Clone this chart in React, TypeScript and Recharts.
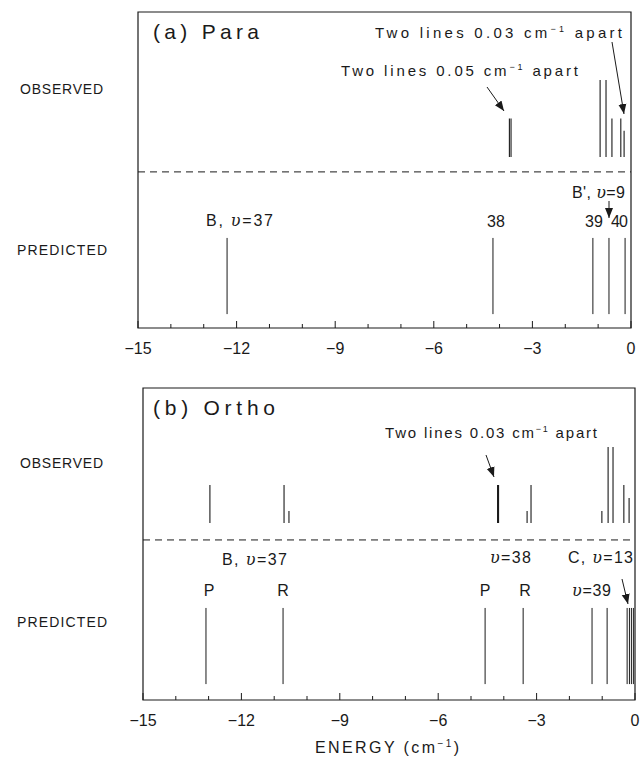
import React from 'react';
import { ComposedChart, Line, XAxis, YAxis, ReferenceLine, ReferenceArea } from 'recharts';

// energies in cm^-1, intensities relative to the tallest observed line
const paraObsEnergy = [-3.7, -3.65, -0.94, -0.76, -0.58, -0.31, -0.21];
const paraObsIntensity = [0.5, 0.5, 1, 1, 0.5, 0.5, 0.34];
const paraPredEnergy = [-12.29, -4.2, -1.16, -0.67, -0.18];

const orthoObsEnergy = [-12.96, -10.7, -10.55, -4.19, -4.16, -3.29, -3.17, -1.01, -0.82, -0.67, -0.34, -0.18];
const orthoObsIntensity = [0.5, 0.5, 0.16, 0.5, 0.5, 0.16, 0.5, 0.16, 1, 1, 0.5, 0.33];
const orthoPredEnergy = [-13.08, -10.73, -4.57, -3.41, -1.31, -0.85, -0.24, -0.17, -0.11, -0.05];

const energyTicks = [-15, -14, -13, -12, -11, -10, -9, -8, -7, -6, -5, -4, -3, -2, -1, 0];

const FONT = '"Liberation Sans", Arial, sans-serif';
const INK = '#1a1a1a';

interface PanelLayout {
  obsBase: number;
  obsFull: number;
  predLow: number;
  predHigh: number;
  divider: number;
}

const fmt = (v: number) => (v < 0 ? '\u2212' + Math.abs(v) : String(v));

const BottomTick = (props: any) => {
  const { x, y, payload } = props;
  const v = payload.value;
  const major = v % 3 === 0;
  return (
    <g>
      <line x1={x} x2={x} y1={y} y2={y - (major ? 7 : 4)} stroke={INK} />
      {major && (
        <text x={x} y={y + 26} textAnchor="middle" fontSize={16} fontFamily={FONT} fill={INK}>
          {fmt(v)}
        </text>
      )}
    </g>
  );
};

const TopTick = (props: any) => {
  const { x, y, payload } = props;
  const major = payload.value % 3 === 0;
  return <line x1={x} x2={x} y1={y} y2={y + (major ? 7 : 4)} stroke={INK} />;
};

interface PanelProps {
  obsEnergy: number[];
  obsIntensity: number[];
  predEnergy: number[];
  layout: PanelLayout;
  height: number;
  margin: { top: number; left: number; right: number; bottom: number };
}

const Panel: React.FC<PanelProps> = ({ obsEnergy, obsIntensity, predEnergy, layout, height, margin }) => {
  // each spectral line is a two-point vertical Line series
  const obsSegs = obsEnergy.map((e, i) => [
    { energy: e, level: layout.obsBase },
    { energy: e, level: layout.obsBase + obsIntensity[i] * layout.obsFull },
  ]);
  const predSegs = predEnergy.map((e) => [
    { energy: e, level: layout.predLow },
    { energy: e, level: layout.predHigh },
  ]);
  const span = [
    { energy: -15, level: 0 },
    { energy: 0, level: 100 },
  ];
  return (
    <ComposedChart width={642} height={height} margin={margin}>
      <XAxis
        dataKey="energy"
        type="number"
        domain={[-15, 0]}
        allowDataOverflow
        ticks={energyTicks}
        interval={0}
        height={32}
        axisLine={false}
        tickLine={false}
        tickSize={0}
        tickMargin={0}
        tick={<BottomTick />}
      />
      <XAxis
        xAxisId="top"
        orientation="top"
        dataKey="energy"
        type="number"
        domain={[-15, 0]}
        allowDataOverflow
        ticks={energyTicks}
        interval={0}
        height={0}
        axisLine={false}
        tickLine={false}
        tickSize={0}
        tickMargin={0}
        tick={<TopTick />}
      />
      <YAxis type="number" dataKey="level" domain={[0, 100]} allowDataOverflow hide />
      <Line data={span} dataKey="level" stroke="none" dot={false} isAnimationActive={false} />
      <Line data={span} xAxisId="top" dataKey="level" stroke="none" dot={false} isAnimationActive={false} />
      <ReferenceArea x1={-15} x2={0} y1={0} y2={100} fill="none" stroke={INK} strokeWidth={1.2} />
      <ReferenceLine y={layout.divider} stroke={INK} strokeDasharray="7 5" />
      {obsSegs.map((seg, i) => (
        <Line
          key={'o' + i}
          data={seg}
          dataKey="level"
          type="linear"
          stroke={INK}
          strokeWidth={1.1}
          dot={false}
          isAnimationActive={false}
        />
      ))}
      {predSegs.map((seg, i) => (
        <Line
          key={'p' + i}
          data={seg}
          dataKey="level"
          type="linear"
          stroke={INK}
          strokeWidth={1}
          dot={false}
          isAnimationActive={false}
        />
      ))}
    </ComposedChart>
  );
};

const T: React.FC<{ x: number; y: number; size?: number; len?: number; anchor?: string; children: React.ReactNode }> = ({
  x,
  y,
  size = 15,
  len,
  anchor = 'start',
  children,
}) => (
  <text
    x={x}
    y={y}
    fontSize={size}
    fontFamily={FONT}
    fill={INK}
    textAnchor={anchor as any}
    textLength={len}
    lengthAdjust={len ? 'spacing' : undefined}
  >
    {children}
  </text>
);

const Ups = () => <tspan fontStyle="italic" fontFamily='"DejaVu Serif", serif'>υ</tspan>;

const Cm = () => (
  <>
    cm<tspan dy={-6} fontSize={9}>−1</tspan>
    <tspan dy={6}> apart</tspan>
  </>
);

const Arrow = ({ x1, y1, x2, y2 }: { x1: number; y1: number; x2: number; y2: number }) => (
  <line x1={x1} y1={y1} x2={x2} y2={y2} stroke={INK} strokeWidth={1} markerEnd="url(#head)" />
);

export default function App() {
  const paraLayout: PanelLayout = { obsBase: 54.1, obsFull: 24.4, predLow: 4.4, predHigh: 28.5, divider: 49.4 };
  const orthoLayout: PanelLayout = { obsBase: 56.7, obsFull: 24.4, predLow: 5.1, predHigh: 29.5, divider: 51.3 };
  return (
    <div style={{ position: 'absolute', left: 0, top: 0, width: 642, height: 763, background: '#fff' }}>
      <div style={{ position: 'absolute', left: 0, top: 0 }}>
        <Panel
          obsEnergy={paraObsEnergy}
          obsIntensity={paraObsIntensity}
          predEnergy={paraPredEnergy}
          layout={paraLayout}
          height={360}
          margin={{ top: 12, left: 138, right: 11, bottom: 0 }}
        />
      </div>
      <div style={{ position: 'absolute', left: 0, top: 370 }}>
        <Panel
          obsEnergy={orthoObsEnergy}
          obsIntensity={orthoObsIntensity}
          predEnergy={orthoPredEnergy}
          layout={orthoLayout}
          height={362}
          margin={{ top: 18, left: 143, right: 7, bottom: 0 }}
        />
      </div>
      <svg width={642} height={763} style={{ position: 'absolute', left: 0, top: 0, pointerEvents: 'none' }}>
        <defs>
          <marker id="head" viewBox="0 0 10 10" refX={10} refY={5} markerWidth={10} markerHeight={10} markerUnits="userSpaceOnUse" orient="auto">
            <path d="M0,1 L10,5 L0,9 z" fill={INK} />
          </marker>
        </defs>
        {/* panel (a) */}
        <T x={153} y={39} size={21} len={106}>(a) Para</T>
        <T x={20} y={94} size={14} len={83}>OBSERVED</T>
        <T x={17} y={255} size={14} len={90}>PREDICTED</T>
        <T x={375} y={38} size={15} len={247}>Two lines 0.03 <Cm /></T>
        <T x={341} y={76} size={15} len={237}>Two lines 0.05 <Cm /></T>
        <Arrow x1={487} y1={87} x2={504} y2={111} />
        <Arrow x1={612} y1={42} x2={624} y2={114} />
        <T x={206} y={226} size={16} len={67}>B,  <Ups />=37</T>
        <T x={487} y={227} size={16} len={18}>38</T>
        <T x={585} y={227} size={16} len={18}>39</T>
        <T x={611} y={227} size={16} len={17}>40</T>
        <T x={572} y={198} size={16} len={53}>B',  <Ups />=9</T>
        <Arrow x1={609} y1={201} x2={609} y2={218} />
        {/* panel (b) */}
        <T x={153} y={415} size={21} len={122}>(b) Ortho</T>
        <T x={20} y={468} size={14} len={83}>OBSERVED</T>
        <T x={17} y={627} size={14} len={90}>PREDICTED</T>
        <T x={385} y={438} size={15} len={212}>Two lines 0.03 <Cm /></T>
        <Arrow x1={486} y1={455} x2={494} y2={477} />
        <T x={222} y={565} size={16} len={65}>B,  <Ups />=37</T>
        <T x={490} y={563} size={16} len={41}><Ups />=38</T>
        <T x={568} y={563} size={16} len={65}>C,  <Ups />=13</T>
        <T x={209} y={596} size={16} anchor="middle">P</T>
        <T x={283} y={596} size={16} anchor="middle">R</T>
        <T x={485} y={596} size={16} anchor="middle">P</T>
        <T x={525} y={596} size={16} anchor="middle">R</T>
        <T x={572} y={596} size={16} len={39}><Ups />=39</T>
        <Arrow x1={622} y1={579} x2={628} y2={604} />
        <T x={315} y={753} size={16} len={144}>ENERGY (cm<tspan dy={-6} fontSize={10}>−1</tspan><tspan dy={6}>)</tspan></T>
      </svg>
    </div>
  );
}
